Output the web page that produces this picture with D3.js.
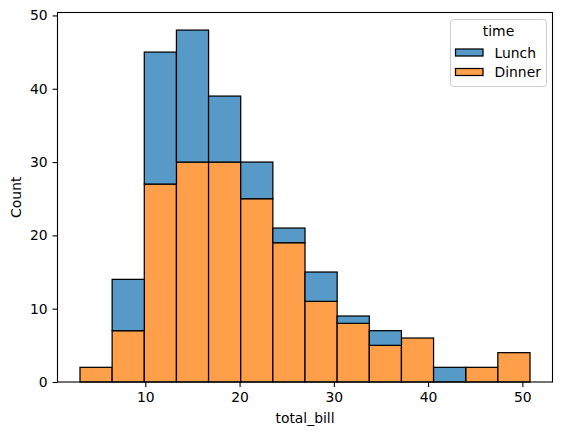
<!DOCTYPE html>
<html><head><meta charset="utf-8">
<script src="https://cdn.jsdelivr.net/npm/d3@7"></script>
<style>body{margin:0;background:#fff}svg{display:block}text{font-family:"DejaVu Sans",sans-serif;fill:#000}</style>
</head><body>
<script>
const binEdges = [3.07,6.48,9.89,13.30,16.71,20.12,23.53,26.94,30.35,33.76,37.17,40.58,43.99,47.40,50.81];
const dinner = [2,7,27,30,30,25,19,11,8,5,6,0,2,4];
const lunch  = [0,7,18,18,9,5,2,4,1,2,0,2,0,0];
const xTicks = [10,20,30,40,50];
const yTicks = [0,10,20,30,40,50];
const series = ["Lunch","Dinner"];
const colors = {Lunch:"#5799c7", Dinner:"#ff9f4a"};

const W=562,H=435, L=57.5, R=552.5, T=12.5, B=382;
const svg=d3.select("body").append("svg").attr("width",W).attr("height",H);
const xmin=binEdges[0], xmax=binEdges[binEdges.length-1], pad=(xmax-xmin)*0.05;
const x=d3.scaleLinear().domain([xmin-pad,xmax+pad]).range([L,R]);
const ymax=d3.max(dinner.map((d,i)=>d+lunch[i]))*1.05;
const y=d3.scaleLinear().domain([0,ymax]).range([B,T]);

const bins=dinner.map((d,i)=>({x0:binEdges[i],x1:binEdges[i+1],dinner:d,lunch:lunch[i]}));
const g=svg.append("g");
// dinner bottom
g.selectAll("rect.d").data(bins.filter(b=>b.dinner>0)).enter().append("rect")
 .attr("x",b=>x(b.x0)).attr("width",b=>x(b.x1)-x(b.x0))
 .attr("y",b=>y(b.dinner)).attr("height",b=>y(0)-y(b.dinner))
 .attr("fill",colors.Dinner).attr("stroke","#000").attr("stroke-width",1.25);
g.selectAll("rect.l").data(bins.filter(b=>b.lunch>0)).enter().append("rect")
 .attr("x",b=>x(b.x0)).attr("width",b=>x(b.x1)-x(b.x0))
 .attr("y",b=>y(b.dinner+b.lunch)).attr("height",b=>y(b.dinner)-y(b.dinner+b.lunch))
 .attr("fill",colors.Lunch).attr("stroke","#000").attr("stroke-width",1.25);

const xa=svg.append("g").attr("transform",`translate(0,${B})`)
 .call(d3.axisBottom(x).tickValues(xTicks).tickSize(4.9).tickPadding(4.9).tickFormat(d3.format("d")));
const ya=svg.append("g").attr("transform",`translate(${L},0)`)
 .call(d3.axisLeft(y).tickValues(yTicks).tickSize(4.9).tickPadding(4.9).tickFormat(d3.format("d")));
[xa,ya].forEach(a=>{a.select(".domain").remove();a.selectAll("text").attr("font-size",13.9).attr("font-family","DejaVu Sans");a.selectAll("line").attr("stroke","#000").attr("stroke-width",1.1);});

svg.append("rect").attr("x",L).attr("y",T).attr("width",R-L).attr("height",B-T)
 .attr("fill","none").attr("stroke","#000").attr("stroke-width",1.1);

svg.append("text").attr("x",(L+R)/2).attr("y",423).attr("text-anchor","middle").attr("font-size",13.9).text("total_bill");
svg.append("text").attr("transform",`translate(21,${(T+B)/2}) rotate(-90)`).attr("text-anchor","middle").attr("font-size",13.9).text("Count");

// legend
const lg=svg.append("g");
lg.append("rect").attr("x",450.5).attr("y",19.5).attr("width",96).attr("height",67).attr("rx",3)
 .attr("fill","#fff").attr("fill-opacity",0.8).attr("stroke","#ccc").attr("stroke-width",1);
lg.append("text").attr("x",498.5).attr("y",36).attr("text-anchor","middle").attr("font-size",13.9).text("time");
series.forEach((s,i)=>{
 const yy=49+i*19.5;
 lg.append("rect").attr("x",455.5).attr("y",yy).attr("width",27.5).attr("height",7)
  .attr("fill",colors[s]).attr("stroke","#000").attr("stroke-width",1.25);
 lg.append("text").attr("x",494.5).attr("y",yy+8.5).attr("font-size",13.9).text(s);
});
</script>
</body></html>
